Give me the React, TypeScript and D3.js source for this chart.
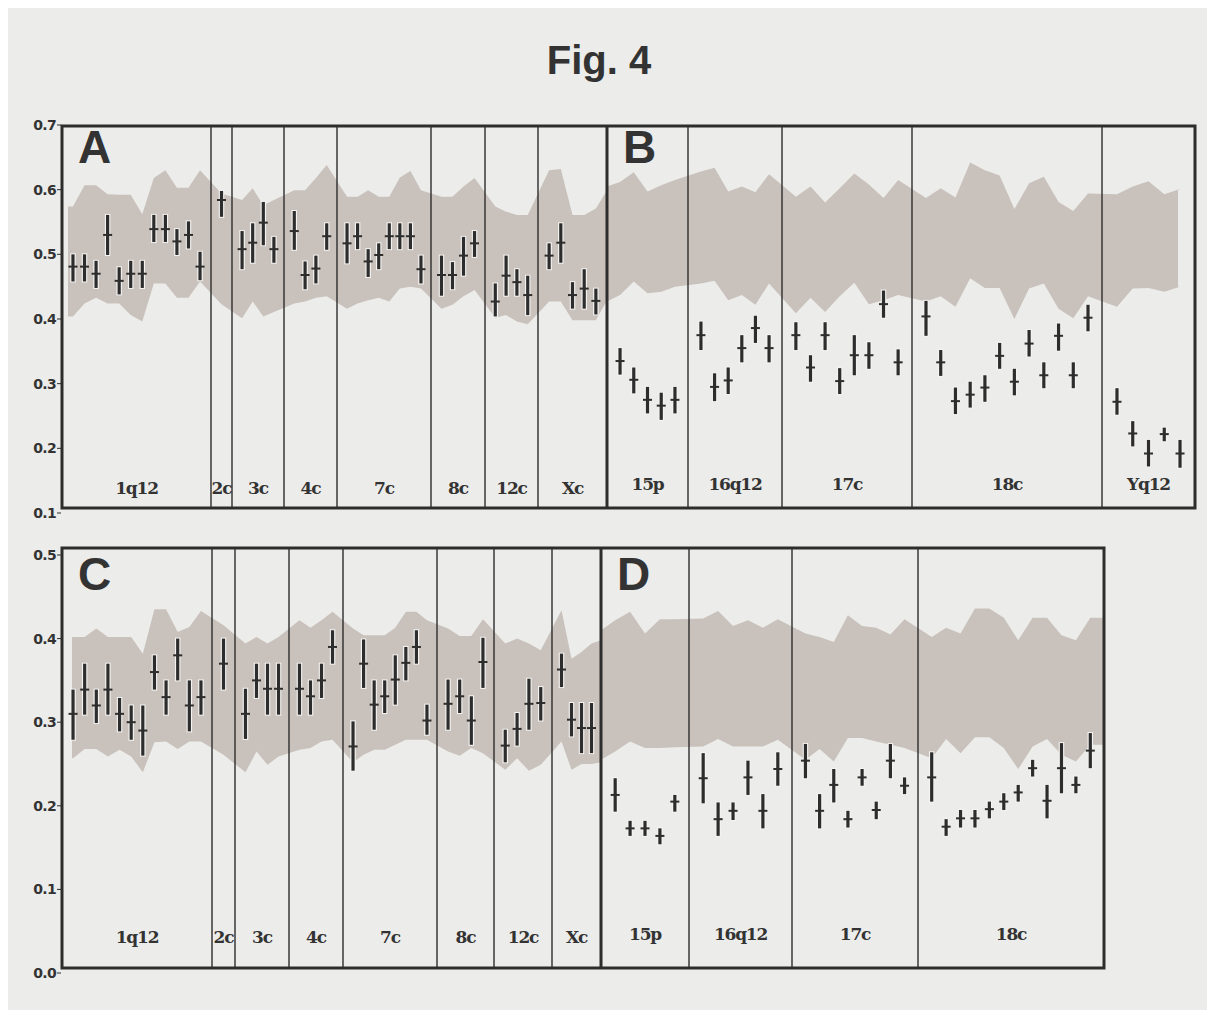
import React from 'react';
import * as d3 from 'd3';

// chromosome regions, left half and right half of each row
const leftGroups = ['1q12', '2c', '3c', '4c', '7c', '8c', '12c', 'Xc'];
const rightGroupsTop = ['15p', '16q12', '17c', '18c', 'Yq12'];
const rightGroupsBottom = ['15p', '16q12', '17c', '18c'];

// number of measurements in each region
const countsA = [12, 1, 4, 4, 8, 4, 4, 5];
const countsB = [5, 6, 8, 12, 5];
const countsC = [12, 1, 4, 4, 8, 4, 4, 4];
const countsD = [5, 6, 8, 12];

const yTicksTop = [0.1, 0.2, 0.3, 0.4, 0.5, 0.6, 0.7];
const yTicksBottom = [0.0, 0.1, 0.2, 0.3, 0.4, 0.5];

// panel A
const meanA = [
  0.481, 0.481, 0.47, 0.53, 0.459, 0.47, 0.47, 0.539, 0.539, 0.52, 0.53, 0.481,
  0.584,
  0.508, 0.518, 0.549, 0.508,
  0.536, 0.468, 0.478, 0.528,
  0.517, 0.528, 0.489, 0.499, 0.528, 0.528, 0.528, 0.477,
  0.468, 0.468, 0.498, 0.517,
  0.427, 0.467, 0.457, 0.437,
  0.498, 0.518, 0.437, 0.447, 0.428,
];
const lowA = [
  0.458, 0.458, 0.448, 0.499, 0.438, 0.448, 0.448, 0.519, 0.519, 0.499, 0.509, 0.46,
  0.558,
  0.477, 0.487, 0.514, 0.487,
  0.507, 0.446, 0.455, 0.507,
  0.486, 0.508, 0.465, 0.477, 0.508, 0.508, 0.508, 0.455,
  0.436, 0.446, 0.467, 0.496,
  0.404, 0.436, 0.436, 0.406,
  0.477, 0.487, 0.416, 0.416, 0.407,
];
const highA = [
  0.5, 0.5, 0.49, 0.561, 0.48, 0.49, 0.49, 0.561, 0.561, 0.539, 0.551, 0.504,
  0.598,
  0.536, 0.548, 0.581, 0.527,
  0.567, 0.489, 0.498, 0.548,
  0.548, 0.548, 0.508, 0.517, 0.548, 0.548, 0.548, 0.498,
  0.498, 0.488, 0.527, 0.536,
  0.455, 0.498, 0.477, 0.467,
  0.517, 0.548, 0.457, 0.477, 0.447,
];
const bandHighA = [
  0.574, 0.607, 0.607, 0.593, 0.592, 0.592, 0.562, 0.618, 0.63, 0.603, 0.603, 0.63,
  0.594,
  0.584, 0.602, 0.576, 0.584,
  0.599, 0.599, 0.618, 0.638,
  0.589, 0.589, 0.599, 0.589, 0.589, 0.619, 0.629, 0.599,
  0.589, 0.589, 0.605, 0.618,
  0.574, 0.566, 0.561, 0.561,
  0.63, 0.632, 0.561, 0.561, 0.571,
];
const bandLowA = [
  0.404, 0.424, 0.433, 0.424, 0.424, 0.406, 0.396, 0.455, 0.455, 0.433, 0.433, 0.458,
  0.423,
  0.401, 0.427, 0.404, 0.411,
  0.424, 0.427, 0.433, 0.435,
  0.416, 0.424, 0.429, 0.433, 0.427, 0.447, 0.45, 0.447,
  0.416, 0.422, 0.435, 0.445,
  0.402, 0.406, 0.396, 0.392,
  0.427, 0.427, 0.398, 0.398, 0.398,
];
const edgeHighA = [0.574, 0.599];
const edgeLowA = [0.404, 0.429];

// panel B
const meanB = [
  0.335, 0.306, 0.275, 0.266, 0.275,
  0.375, 0.295, 0.305, 0.355, 0.386, 0.355,
  0.375, 0.325, 0.375, 0.304, 0.344, 0.344, 0.423, 0.333,
  0.404, 0.333, 0.273, 0.283, 0.294, 0.343, 0.303, 0.362, 0.313, 0.374, 0.313, 0.402,
  0.272, 0.223, 0.192, 0.222, 0.192,
];
const lowB = [
  0.314, 0.285, 0.254, 0.244, 0.254,
  0.352, 0.273, 0.284, 0.333, 0.363, 0.333,
  0.352, 0.303, 0.352, 0.284, 0.313, 0.323, 0.402, 0.313,
  0.374, 0.312, 0.253, 0.263, 0.272, 0.323, 0.282, 0.342, 0.293, 0.351, 0.293, 0.381,
  0.252, 0.203, 0.172, 0.211, 0.17,
];
const highB = [
  0.355, 0.325, 0.295, 0.286, 0.295,
  0.396, 0.316, 0.325, 0.375, 0.405, 0.375,
  0.395, 0.344, 0.395, 0.324, 0.375, 0.364, 0.444, 0.353,
  0.428, 0.352, 0.294, 0.303, 0.313, 0.363, 0.323, 0.383, 0.333, 0.393, 0.333, 0.422,
  0.293, 0.242, 0.213, 0.232, 0.213,
];
const bandHighB = [
  0.612, 0.627, 0.597, 0.607, 0.615,
  0.628, 0.634, 0.597, 0.605, 0.596, 0.624,
  0.589, 0.605, 0.58, 0.602, 0.625, 0.608, 0.587, 0.615,
  0.587, 0.602, 0.588, 0.642, 0.63, 0.622, 0.57, 0.61, 0.62, 0.581, 0.567, 0.594,
  0.593, 0.605, 0.613, 0.593, 0.601,
];
const bandLowB = [
  0.437, 0.458, 0.44, 0.442, 0.45,
  0.455, 0.459, 0.429, 0.437, 0.422, 0.455,
  0.409, 0.433, 0.411, 0.435, 0.456, 0.423, 0.429, 0.437,
  0.427, 0.435, 0.419, 0.463, 0.448, 0.448, 0.4, 0.447, 0.455, 0.416, 0.401, 0.435,
  0.419, 0.447, 0.448, 0.442, 0.45,
];
const edgeHighB = [0.605, 0.601];
const edgeLowB = [0.427, 0.45];

// panel C
const meanC = [
  0.31, 0.339, 0.32, 0.339, 0.31, 0.3, 0.29, 0.36, 0.33, 0.38, 0.32, 0.33,
  0.37,
  0.31, 0.35, 0.34, 0.34,
  0.34, 0.331, 0.35, 0.39,
  0.271, 0.37, 0.321, 0.331, 0.351, 0.371, 0.39, 0.302,
  0.322, 0.331, 0.302, 0.372,
  0.272, 0.292, 0.322, 0.323,
  0.363, 0.303, 0.293, 0.293,
];
const lowC = [
  0.279, 0.309, 0.299, 0.309, 0.289, 0.279, 0.26, 0.339, 0.309, 0.35, 0.289, 0.309,
  0.339,
  0.28, 0.329, 0.309, 0.309,
  0.309, 0.309, 0.329, 0.37,
  0.242, 0.341, 0.291, 0.311, 0.321, 0.35, 0.37, 0.285,
  0.291, 0.311, 0.273, 0.341,
  0.252, 0.272, 0.291, 0.302,
  0.342, 0.283, 0.263, 0.263,
];
const highC = [
  0.339, 0.37, 0.339, 0.37, 0.329, 0.32, 0.32, 0.38, 0.35, 0.4, 0.35, 0.35,
  0.4,
  0.34, 0.37, 0.37, 0.37,
  0.37, 0.35, 0.37, 0.41,
  0.301, 0.399, 0.35, 0.35, 0.38, 0.39, 0.41, 0.321,
  0.351, 0.351, 0.331, 0.401,
  0.291, 0.311, 0.352, 0.342,
  0.382, 0.323, 0.323, 0.323,
];
const bandHighC = [
  0.402, 0.402, 0.412, 0.402, 0.402, 0.402, 0.382, 0.435, 0.435, 0.408, 0.414, 0.433,
  0.416,
  0.394, 0.402, 0.394, 0.402,
  0.422, 0.413, 0.422, 0.432,
  0.412, 0.404, 0.404, 0.404, 0.413, 0.432, 0.432, 0.422,
  0.412, 0.403, 0.403, 0.423,
  0.394, 0.4, 0.394, 0.386,
  0.434, 0.376, 0.384, 0.394,
];
const bandLowC = [
  0.257, 0.268, 0.268, 0.259, 0.267, 0.259, 0.24, 0.276, 0.277, 0.268, 0.277, 0.277,
  0.261,
  0.24, 0.265, 0.249, 0.259,
  0.267, 0.269, 0.277, 0.279,
  0.252, 0.261, 0.267, 0.267, 0.273, 0.279, 0.279, 0.279,
  0.265, 0.26, 0.269, 0.263,
  0.243, 0.257, 0.242, 0.249,
  0.277, 0.243, 0.25, 0.25,
];
const edgeHighC = [0.402, 0.398];
const edgeLowC = [0.257, 0.252];

// panel D
const meanD = [
  0.213, 0.173, 0.173, 0.164, 0.205,
  0.233, 0.184, 0.194, 0.234, 0.194, 0.244,
  0.254, 0.194, 0.225, 0.184, 0.234, 0.195, 0.254, 0.224,
  0.234, 0.175, 0.185, 0.185, 0.196, 0.205, 0.216, 0.245, 0.206, 0.245, 0.225, 0.266,
];
const lowD = [
  0.193, 0.164, 0.164, 0.154, 0.193,
  0.203, 0.164, 0.183, 0.213, 0.173, 0.224,
  0.233, 0.173, 0.204, 0.174, 0.224, 0.184, 0.233, 0.214,
  0.205, 0.164, 0.174, 0.174, 0.185, 0.195, 0.205, 0.235, 0.185, 0.215, 0.215, 0.245,
];
const highD = [
  0.233, 0.182, 0.182, 0.173, 0.213,
  0.263, 0.204, 0.204, 0.254, 0.214, 0.264,
  0.274, 0.214, 0.244, 0.194, 0.244, 0.205, 0.274, 0.234,
  0.264, 0.184, 0.195, 0.195, 0.205, 0.215, 0.225, 0.255, 0.225, 0.275, 0.235, 0.287,
];
const bandHighD = [
  0.422, 0.432, 0.406, 0.423, 0.423,
  0.424, 0.433, 0.415, 0.422, 0.413, 0.423,
  0.406, 0.402, 0.396, 0.428, 0.415, 0.413, 0.405, 0.423,
  0.402, 0.413, 0.406, 0.436, 0.436, 0.425, 0.398, 0.425, 0.425, 0.404, 0.398, 0.425,
];
const bandLowD = [
  0.265, 0.277, 0.269, 0.269, 0.27,
  0.271, 0.28, 0.271, 0.271, 0.271, 0.279,
  0.255, 0.268, 0.253, 0.281, 0.281, 0.277, 0.273, 0.269,
  0.257, 0.28, 0.263, 0.282, 0.282, 0.269, 0.244, 0.271, 0.28, 0.261, 0.253, 0.273,
];
const edgeHighD = [0.41, 0.425];
const edgeLowD = [0.255, 0.273];

const BG = '#ececea',
  BAND = '#c9c1bb',
  INK = '#2d2d2d';

// region boundaries (page px) of each panel: frame edge, dividers, frame edge
const cutsA = [62, 211, 232, 284, 337, 431, 485, 538, 607];
const cutsB = [607, 688, 782, 912, 1102, 1195];
const cutsC = [62, 212, 235, 289, 343, 437, 494, 552, 601];
const cutsD = [601, 689, 792, 918, 1104];

function Panel({
  groups, counts, mean, low, high, bandHigh, bandLow, edgeHigh, edgeLow,
  cuts, bandX, y, top, bottom, labelY, letter, letterY,
}) {
  // x of every measurement: evenly spread inside its region
  const xs = [];
  counts.forEach((n, g) => {
    const sx = d3
      .scalePoint()
      .domain(d3.range(n))
      .range([cuts[g], cuts[g + 1]])
      .padding(0.95);
    d3.range(n).forEach((i) => xs.push(sx(i)));
  });

  const bandPts = [
    { x: bandX[0], lo: edgeLow[0], hi: edgeHigh[0] },
    ...xs.map((x, i) => ({ x, lo: bandLow[i], hi: bandHigh[i] })),
    { x: bandX[1], lo: edgeLow[1], hi: edgeHigh[1] },
  ];
  const area = d3
    .area()
    .x((d) => d.x)
    .y0((d) => y(d.lo))
    .y1((d) => y(d.hi));

  const seps = cuts.slice(1, -1);

  return (
    <g>
      <path d={area(bandPts)} fill={BAND} />
      {seps.map((sx, i) => (
        <line key={i} x1={sx} x2={sx} y1={top} y2={bottom} stroke={INK} strokeWidth={1.4} />
      ))}
      {xs.map((cx, i) => (
        <g key={i}>
          <line x1={cx} x2={cx} y1={y(low[i]) + 1} y2={y(high[i]) - 1} stroke="#f4f3f1" strokeWidth={5.5} />
          <line x1={cx} x2={cx} y1={y(low[i])} y2={y(high[i])} stroke={INK} strokeWidth={3.2} />
          <line x1={cx - 4.5} x2={cx + 4.5} y1={y(mean[i])} y2={y(mean[i])} stroke={INK} strokeWidth={2} />
        </g>
      ))}
      {groups.map((g, i) => (
        <text
          key={g}
          x={(cuts[i] + cuts[i + 1]) / 2}
          y={labelY}
          textAnchor="middle"
          fontFamily="'DejaVu Serif', serif"
          fontWeight="bold"
          fontSize={17}
          letterSpacing={-1.2}
          fill="#333"
        >
          {g}
        </text>
      ))}
      <text
        x={cuts[0] + 16}
        y={letterY}
        fontFamily="'Liberation Sans', Arial, sans-serif"
        fontWeight="bold"
        fontSize={46}
        fill="#333"
      >
        {letter}
      </text>
    </g>
  );
}

function YAxis({ y, ticks }) {
  return (
    <g>
      {ticks.map((t) => (
        <g key={t}>
          <line x1={57} x2={61} y1={y(t)} y2={y(t)} stroke={INK} strokeWidth={1} />
          <text
            x={56}
            y={y(t)}
            dy="0.36em"
            textAnchor="end"
            fontFamily="'DejaVu Sans', sans-serif"
            fontWeight="bold"
            fontSize={14}
            letterSpacing={-0.7}
            fill="#333"
          >
            {d3.format('.1f')(t)}
          </text>
        </g>
      ))}
    </g>
  );
}

export default function App() {
  const width = 1199,
    height = 1002;

  const yTop = d3.scaleLinear().domain([0.1, 0.7]).range([513, 125]);
  const yBottom = d3.scaleLinear().domain([0, 0.5]).range([973, 555]);

  const top = { y0: 126, y1: 508 };
  const bot = { y0: 548, y1: 968 };

  return (
    <svg width={width} height={height} style={{ display: 'block' }}>
      <rect width={width} height={height} fill={BG} />
      <g transform="translate(-8,-8)">
        <text
          x={599}
          y={74}
          textAnchor="middle"
          fontFamily="'Liberation Sans', Arial, sans-serif"
          fontWeight="bold"
          fontSize={40}
          fill="#333"
        >
          Fig. 4
        </text>

        <Panel
          groups={leftGroups} counts={countsA} mean={meanA} low={lowA} high={highA}
          bandHigh={bandHighA} bandLow={bandLowA} edgeHigh={edgeHighA} edgeLow={edgeLowA}
          cuts={cutsA} bandX={[68, cutsA[cutsA.length - 1]]}
          y={yTop} top={top.y0} bottom={top.y1} labelY={494} letter="A" letterY={163}
        />
        <Panel
          groups={rightGroupsTop} counts={countsB} mean={meanB} low={lowB} high={highB}
          bandHigh={bandHighB} bandLow={bandLowB} edgeHigh={edgeHighB} edgeLow={edgeLowB}
          cuts={cutsB} bandX={[cutsB[0], 1178]}
          y={yTop} top={top.y0} bottom={top.y1} labelY={490} letter="B" letterY={163}
        />
        <Panel
          groups={leftGroups} counts={countsC} mean={meanC} low={lowC} high={highC}
          bandHigh={bandHighC} bandLow={bandLowC} edgeHigh={edgeHighC} edgeLow={edgeLowC}
          cuts={cutsC} bandX={[72, cutsC[cutsC.length - 1]]}
          y={yBottom} top={bot.y0} bottom={bot.y1} labelY={943} letter="C" letterY={590}
        />
        <Panel
          groups={rightGroupsBottom} counts={countsD} mean={meanD} low={lowD} high={highD}
          bandHigh={bandHighD} bandLow={bandLowD} edgeHigh={edgeHighD} edgeLow={edgeLowD}
          cuts={cutsD} bandX={[cutsD[0], cutsD[cutsD.length - 1]]}
          y={yBottom} top={bot.y0} bottom={bot.y1} labelY={940} letter="D" letterY={590}
        />

        <rect x={cutsA[0]} y={top.y0} width={cutsB[cutsB.length - 1] - cutsA[0]} height={top.y1 - top.y0}
          fill="none" stroke={INK} strokeWidth={3} />
        <line x1={cutsB[0]} x2={cutsB[0]} y1={top.y0} y2={top.y1} stroke={INK} strokeWidth={3} />
        <rect x={cutsC[0]} y={bot.y0} width={cutsD[cutsD.length - 1] - cutsC[0]} height={bot.y1 - bot.y0}
          fill="none" stroke={INK} strokeWidth={3} />
        <line x1={cutsD[0]} x2={cutsD[0]} y1={bot.y0} y2={bot.y1} stroke={INK} strokeWidth={3} />

        <YAxis y={yTop} ticks={yTicksTop} />
        <YAxis y={yBottom} ticks={yTicksBottom} />
      </g>
    </svg>
  );
}
